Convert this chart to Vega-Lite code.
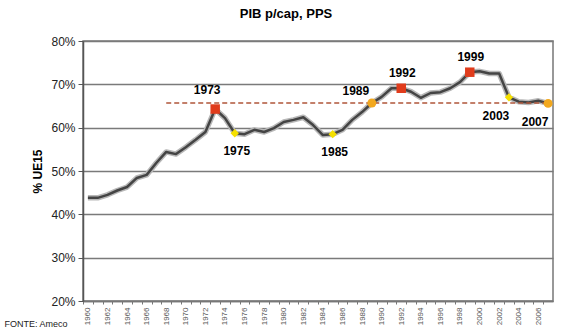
{
  "$schema": "https://vega.github.io/schema/vega-lite/v6.json",
  "width": 470,
  "height": 260,
  "autosize": {"type": "none"},
  "padding": {"left": 83, "top": 41, "right": 15, "bottom": 29},
  "background": "white",
  "config": {
    "font": "Liberation Sans",
    "view": {"stroke": "#777777", "strokeWidth": 1.5}
  },
  "title": {
    "text": "PIB p/cap, PPS",
    "fontSize": 13,
    "fontWeight": "bold",
    "color": "#000000",
    "anchor": "middle",
    "frame": "group",
    "offset": 14,
    "dx": -32
  },
  "datasets": {
    "pib": [
      {"ano": 1960, "valor": 0.438}, {"ano": 1961, "valor": 0.438}, {"ano": 1962, "valor": 0.445},
      {"ano": 1963, "valor": 0.455}, {"ano": 1964, "valor": 0.463}, {"ano": 1965, "valor": 0.484},
      {"ano": 1966, "valor": 0.491}, {"ano": 1967, "valor": 0.519}, {"ano": 1968, "valor": 0.544},
      {"ano": 1969, "valor": 0.539}, {"ano": 1970, "valor": 0.555}, {"ano": 1971, "valor": 0.572},
      {"ano": 1972, "valor": 0.590}, {"ano": 1973, "valor": 0.643}, {"ano": 1974, "valor": 0.622},
      {"ano": 1975, "valor": 0.587}, {"ano": 1976, "valor": 0.585}, {"ano": 1977, "valor": 0.595},
      {"ano": 1978, "valor": 0.590}, {"ano": 1979, "valor": 0.599}, {"ano": 1980, "valor": 0.613},
      {"ano": 1981, "valor": 0.618}, {"ano": 1982, "valor": 0.624}, {"ano": 1983, "valor": 0.606},
      {"ano": 1984, "valor": 0.583}, {"ano": 1985, "valor": 0.585}, {"ano": 1986, "valor": 0.595},
      {"ano": 1987, "valor": 0.618}, {"ano": 1988, "valor": 0.636}, {"ano": 1989, "valor": 0.657},
      {"ano": 1990, "valor": 0.671}, {"ano": 1991, "valor": 0.691}, {"ano": 1992, "valor": 0.691},
      {"ano": 1993, "valor": 0.683}, {"ano": 1994, "valor": 0.669}, {"ano": 1995, "valor": 0.680},
      {"ano": 1996, "valor": 0.682}, {"ano": 1997, "valor": 0.691}, {"ano": 1998, "valor": 0.705},
      {"ano": 1999, "valor": 0.728}, {"ano": 2000, "valor": 0.730}, {"ano": 2001, "valor": 0.725},
      {"ano": 2002, "valor": 0.725}, {"ano": 2003, "valor": 0.670}, {"ano": 2004, "valor": 0.660},
      {"ano": 2005, "valor": 0.658}, {"ano": 2006, "valor": 0.662}, {"ano": 2007, "valor": 0.656}
    ],
    "referencia": [{"de": 1968, "ate": 2007, "nivel": 0.657}]
  },
  "data": {"name": "pib"},
  "encoding": {
    "x": {
      "field": "ano",
      "type": "ordinal",
      "scale": {"type": "point", "padding": 0.5},
      "axis": {
        "title": "FONTE: Ameco",
        "titleFontSize": 9,
        "titleFontWeight": "normal",
        "titleColor": "#222222",
        "titleAnchor": "start",
        "titleAlign": "left",
        "titleBaseline": "alphabetic",
        "titleX": -79,
        "titleY": 25,
        "labelAngle": 270,
        "labelAlign": "right",
        "labelBaseline": "middle",
        "labelFontSize": 8,
        "labelColor": "#555555",
        "labelPadding": 3,
        "labelOverlap": false,
        "labelExpr": "datum.value % 2 == 0 ? datum.value : ''",
        "tickOffset": -4.9,
        "labelOffset": 4.9,
        "tickSize": 3,
        "tickColor": "#777777",
        "domainColor": "#777777",
        "domainWidth": 1.5,
        "grid": false
      }
    },
    "y": {
      "field": "valor",
      "type": "quantitative",
      "scale": {"domain": [0.2, 0.8], "nice": false, "zero": false},
      "axis": {
        "title": "% UE15",
        "titleFontSize": 12,
        "titleFontWeight": "bold",
        "titleColor": "#000000",
        "titlePadding": 6,
        "format": ".0%",
        "values": [0.2, 0.3, 0.4, 0.5, 0.6, 0.7, 0.8],
        "labelFontSize": 12,
        "labelColor": "#222222",
        "labelPadding": 3,
        "tickSize": 5,
        "tickColor": "#555555",
        "domainColor": "#555555",
        "domainWidth": 1.5,
        "grid": true,
        "gridColor": "#7a7a7a",
        "gridWidth": 1.5
      }
    }
  },
  "layer": [
    {
      "mark": {"type": "line", "color": "#b8b8b8", "strokeWidth": 5.5, "strokeJoin": "round"}
    },
    {
      "mark": {"type": "line", "color": "#444444", "strokeWidth": 2.5, "strokeJoin": "round"}
    },
    {
      "data": {"name": "referencia"},
      "mark": {"type": "rule", "color": "#b0553a", "strokeWidth": 1.5, "strokeDash": [5, 3]},
      "encoding": {
        "x": {"field": "de", "type": "ordinal"},
        "x2": {"field": "ate"},
        "y": {"field": "nivel", "type": "quantitative"}
      }
    },
    {
      "transform": [{"filter": {"field": "ano", "oneOf": [1973, 1992, 1999]}}],
      "mark": {"type": "square", "color": "#e03c1c", "opacity": 1, "size": 90}
    },
    {
      "transform": [{"filter": {"field": "ano", "oneOf": [1975, 1985, 2003]}}],
      "mark": {"type": "point", "shape": "diamond", "filled": true, "color": "#f5e000", "opacity": 1, "size": 70}
    },
    {
      "transform": [{"filter": {"field": "ano", "oneOf": [1989, 2007]}}],
      "mark": {"type": "circle", "color": "#f2a81e", "opacity": 1, "size": 80}
    },
    {
      "transform": [{"filter": {"field": "ano", "oneOf": [1973]}}],
      "mark": {"type": "text", "fontSize": 12, "fontWeight": "bold", "dx": -8, "dy": -19},
      "encoding": {"text": {"field": "ano"}}
    },
    {
      "transform": [{"filter": {"field": "ano", "oneOf": [1992, 1999]}}],
      "mark": {"type": "text", "fontSize": 12, "fontWeight": "bold", "dx": 1, "dy": -15},
      "encoding": {"text": {"field": "ano"}}
    },
    {
      "transform": [{"filter": {"field": "ano", "oneOf": [1975, 1985]}}],
      "mark": {"type": "text", "fontSize": 12, "fontWeight": "bold", "dx": 2, "dy": 18},
      "encoding": {"text": {"field": "ano"}}
    },
    {
      "transform": [{"filter": {"field": "ano", "oneOf": [1989]}}],
      "mark": {"type": "text", "fontSize": 12, "fontWeight": "bold", "dx": -16, "dy": -12},
      "encoding": {"text": {"field": "ano"}}
    },
    {
      "transform": [{"filter": {"field": "ano", "oneOf": [2003, 2007]}}],
      "mark": {"type": "text", "fontSize": 12, "fontWeight": "bold", "dx": -13, "dy": 19},
      "encoding": {"text": {"field": "ano"}}
    }
  ]
}
